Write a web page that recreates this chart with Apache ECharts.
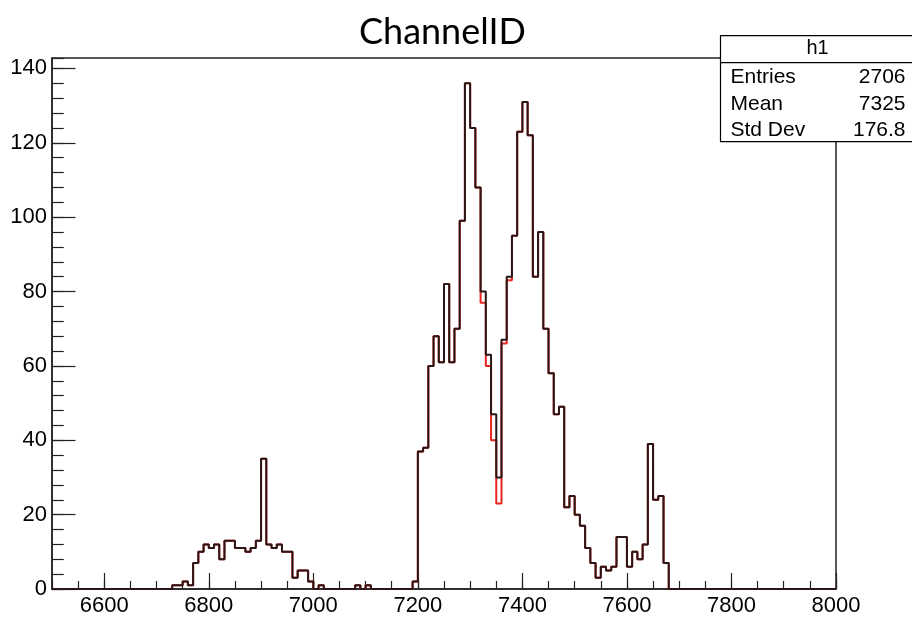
<!DOCTYPE html>
<html>
<head>
<meta charset="utf-8">
<script src="https://cdn.jsdelivr.net/npm/echarts@6.0.0/dist/echarts.min.js"></script>
<style>
  html, body { margin: 0; padding: 0; background: #fff; }
  #chart { width: 912px; height: 617px; }
</style>
</head>
<body>
<div id="chart"></div>
<script>
// histogram binning: 150 bins of width 10 from 6500 to 8000
const binLow = 6500
const binWidth = 10

// black histogram (drawn on top)
const countsBlack = [
  0, 0, 0, 0, 0, 0, 0, 0, 0, 0,          // 6500
  0, 0, 0, 0, 0, 0, 0, 0, 0, 0,          // 6600
  0, 0, 0, 1, 1, 2, 1, 7, 10, 12,        // 6700
  11, 12, 8, 13, 13, 11, 11, 10, 11, 13, // 6800
  35, 12, 11, 12, 10, 10, 3, 5, 5, 2,    // 6900
  0, 1, 0, 0, 0, 0, 0, 0, 1, 0,          // 7000
  1, 0, 0, 0, 0, 0, 0, 0, 0, 2,          // 7100
  37, 38, 60, 68, 61, 82, 61, 70, 99, 136,     // 7200
  124, 108, 80, 63, 47, 30, 67, 84, 95, 123,   // 7300
  131, 122, 84, 96, 70, 58, 47, 49, 22, 25,    // 7400
  20, 17, 11, 7, 3, 6, 5, 6, 14, 14,     // 7500
  6, 10, 8, 12, 39, 24, 25, 7, 0, 0,     // 7600
  0, 0, 0, 0, 0, 0, 0, 0, 0, 0,          // 7700
  0, 0, 0, 0, 0, 0, 0, 0, 0, 0,          // 7800
  0, 0, 0, 0, 0, 0, 0, 0, 0, 0           // 7900
]

// red histogram (h1), only differs around 7320-7370
const countsRed = [
  0, 0, 0, 0, 0, 0, 0, 0, 0, 0,
  0, 0, 0, 0, 0, 0, 0, 0, 0, 0,
  0, 0, 0, 1, 1, 2, 1, 7, 10, 12,
  11, 12, 8, 13, 13, 11, 11, 10, 11, 13,
  35, 12, 11, 12, 10, 10, 3, 5, 5, 2,
  0, 1, 0, 0, 0, 0, 0, 0, 1, 0,
  1, 0, 0, 0, 0, 0, 0, 0, 0, 2,
  37, 38, 60, 68, 61, 82, 61, 70, 99, 136,
  124, 108, 77, 60, 40, 23, 66, 83, 95, 123,
  131, 122, 84, 96, 70, 58, 47, 49, 22, 25,
  20, 17, 11, 7, 3, 6, 5, 6, 14, 14,
  6, 10, 8, 12, 39, 24, 25, 7, 0, 0,
  0, 0, 0, 0, 0, 0, 0, 0, 0, 0,
  0, 0, 0, 0, 0, 0, 0, 0, 0, 0,
  0, 0, 0, 0, 0, 0, 0, 0, 0, 0
]

const xMajorTicks = [6600, 6800, 7000, 7200, 7400, 7600, 7800, 8000]
const yMax = 142.8

const statsTitle = 'h1'
const statsLabels = ['Entries', 'Mean', 'Std Dev']
const statsValues = ['2706', '7325', '176.8']

// bin edges -> step points
function toSteps(counts) {
  const pts = counts.map((c, i) => [binLow + i * binWidth, c])
  pts.push([binLow + counts.length * binWidth, counts[counts.length - 1]])
  return pts
}

const chart = echarts.init(document.getElementById('chart'), null, { renderer: 'canvas' })

const labelFont = 'Liberation Sans, Arial, sans-serif'
const axisColor = '#222'

const option = {
  animation: false,
  backgroundColor: '#fff',
  title: {
    text: 'ChannelID',
    left: 354,
    top: 9,
    textStyle: { fontFamily: 'Lato', fontSize: 36, fontWeight: 'normal', color: '#000' }
  },
  grid: {
    left: 52, right: 76, top: 58, bottom: 25,
    show: true, borderColor: axisColor, borderWidth: 1.5, backgroundColor: 'transparent'
  },
  xAxis: [
    {
      type: 'value', position: 'bottom', min: 6500, max: 8000, interval: 50,
      axisLine: { show: true, lineStyle: { color: axisColor, width: 1.5 } },
      axisTick: { show: true, inside: true, length: 8, lineStyle: { color: axisColor, width: 1.2 } },
      axisLabel: { show: false },
      splitLine: { show: false }
    },
    {
      type: 'value', position: 'bottom', min: 6500, max: 8000,
      axisLine: { show: false },
      axisTick: { show: true, inside: true, length: 16, customValues: xMajorTicks, lineStyle: { color: axisColor, width: 1.2 } },
      axisLabel: {
        show: true, customValues: xMajorTicks, margin: 6,
        formatter: v => String(v),
        fontFamily: labelFont, fontSize: 22, color: '#000'
      },
      splitLine: { show: false }
    }
  ],
  yAxis: [
    {
      type: 'value', position: 'left', min: 0, max: yMax, interval: 4,
      axisLine: { show: true, lineStyle: { color: axisColor, width: 1.5 } },
      axisTick: { show: true, inside: true, length: 11.75, lineStyle: { color: axisColor, width: 1.2 } },
      axisLabel: { show: false },
      splitLine: { show: false }
    },
    {
      type: 'value', position: 'left', min: 0, max: yMax, interval: 20,
      axisLine: { show: false },
      axisTick: { show: true, inside: true, length: 23.5, lineStyle: { color: axisColor, width: 1.2 } },
      axisLabel: {
        show: true, showMaxLabel: false, margin: 5,
        formatter: v => String(v),
        fontFamily: labelFont, fontSize: 22, color: '#000'
      },
      splitLine: { show: false }
    }
  ],
  series: [
    {
      name: 'red', type: 'line', step: 'end', xAxisIndex: 0, yAxisIndex: 0,
      data: toSteps(countsRed), showSymbol: false, symbol: 'none',
      lineStyle: { color: '#e8241c', width: 2 }, z: 3
    },
    {
      name: 'black', type: 'line', step: 'end', xAxisIndex: 0, yAxisIndex: 0,
      data: toSteps(countsBlack), showSymbol: false, symbol: 'none',
      lineStyle: { color: '#2a1616', width: 2 }, z: 4
    }
  ],
  graphic: [
    {
      type: 'group', left: 718, top: 35, z: 100,
      children: [
        { type: 'rect', shape: { x: 0, y: 0, width: 193, height: 106 },
          style: { fill: '#fff', stroke: '#000', lineWidth: 1.2 } },
        { type: 'line', shape: { x1: 0, y1: 27, x2: 193, y2: 27 },
          style: { stroke: '#000', lineWidth: 1.2 } },
        { type: 'text', x: 97, y: 13,
          style: { text: statsTitle, font: '20px Liberation Sans, Arial', fill: '#000', align: 'center', verticalAlign: 'middle' } }
      ].concat(statsLabels.flatMap((lab, i) => [
        { type: 'text', x: 10, y: 42 + i * 26.5,
          style: { text: lab, font: '21px Liberation Sans, Arial', fill: '#000', align: 'left', verticalAlign: 'middle' } },
        { type: 'text', x: 185, y: 42 + i * 26.5,
          style: { text: statsValues[i], font: '21px Liberation Sans, Arial', fill: '#000', align: 'right', verticalAlign: 'middle' } }
      ]))
    }
  ]
}

chart.setOption(option)
</script>
</body>
</html>
